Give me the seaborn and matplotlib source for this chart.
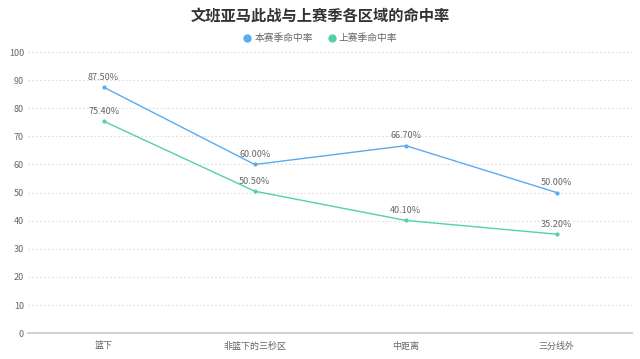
import numpy as np
import pandas as pd
import seaborn as sns
import matplotlib.pyplot as plt
from matplotlib.lines import Line2D

categories = ["篮下", "非篮下的三秒区", "中距离", "三分线外"]
this_season = [87.5, 60.0, 66.7, 50.0]
last_season = [75.4, 50.5, 40.1, 35.2]
series_names = ["本赛季命中率", "上赛季命中率"]
colors = ["#5aabf0", "#52d3a4"]

df = pd.DataFrame({
    "区域": categories * 2,
    "命中率": this_season + last_season,
    "系列": [series_names[0]] * 4 + [series_names[1]] * 4,
})
df["pos"] = df["区域"].map({c: i for i, c in enumerate(categories)})

sns.set_theme(style="white")
plt.rcParams['font.family'] = ['Noto Sans CJK SC', 'DejaVu Sans']

fig = plt.figure(figsize=(6.4, 3.59), dpi=100)
ax = fig.add_axes([0.044, 0.072, 0.944, 0.783])

sns.lineplot(data=df, x="pos", y="命中率", hue="系列", palette=colors,
             marker="o", markersize=3, markeredgewidth=0, linewidth=1,
             legend=False, ax=ax)

for vals in [this_season, last_season]:
    for i, v in enumerate(vals):
        ax.annotate(f"{v:.2f}%", (i, v), xytext=(0, 4), textcoords="offset points",
                    ha="center", va="bottom", fontsize=6.5, color="#666666")

ax.set_xlim(-0.5, 3.5)
ax.set_ylim(0, 100)
ax.set_yticks(range(0, 101, 10))
ax.set_xticks(range(len(categories)))
ax.set_xticklabels(categories)
ax.set_xlabel("")
ax.set_ylabel("")
ax.grid(axis="y", color="#dddddd", linestyle=(0, (1.5, 2)), linewidth=0.8)
ax.set_axisbelow(True)
for s in ["top", "right", "left"]:
    ax.spines[s].set_visible(False)
ax.spines["bottom"].set_color("#cccccc")
ax.tick_params(axis="x", length=3, color="#cccccc", labelsize=6.5, labelcolor="#666666", pad=3)
ax.tick_params(axis="y", length=0, labelsize=6.5, labelcolor="#666666", pad=3)

fig.text(0.5, 0.953, "文班亚马此战与上赛季各区域的命中率", ha="center", va="center",
         fontsize=11, fontweight="bold", color="#333333")

handles = [Line2D([0], [0], marker="o", color="w", markerfacecolor=c, markersize=6,
                  markeredgewidth=0) for c in colors]
fig.legend(handles, series_names, loc="center", bbox_to_anchor=(0.5, 0.893), ncol=2,
           frameon=False, fontsize=7, labelcolor="#666666", handletextpad=0.2,
           columnspacing=1.5, handlelength=1)

fig.savefig("out.png", dpi=100)
